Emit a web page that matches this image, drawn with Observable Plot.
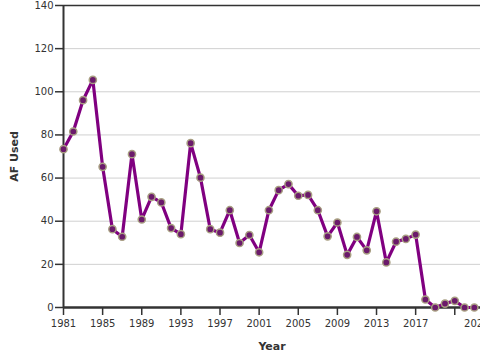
<!DOCTYPE html>
<html>
<head>
<meta charset="utf-8">
<script src="https://cdn.jsdelivr.net/npm/d3@7"></script>
<script src="https://cdn.jsdelivr.net/npm/@observablehq/plot@0.6"></script>
<style>
  html, body { margin: 0; padding: 0; background: #fff; }
  #chart { width: 480px; height: 360px; overflow: hidden; }
</style>
</head>
<body>
<div id="chart"></div>
<script>
const years = [1981,1982,1983,1984,1985,1986,1987,1988,1989,1990,
               1991,1992,1993,1994,1995,1996,1997,1998,1999,2000,
               2001,2002,2003,2004,2005,2006,2007,2008,2009,2010,
               2011,2012,2013,2014,2015,2016,2017,2018,2019,2020,
               2021,2022,2023];
const afUsed = [73.4,81.6,96.1,105.5,65.2,36.3,32.8,71.1,40.8,51.3,
                48.7,36.8,34.0,76.2,60.2,36.3,34.7,45.1,29.9,33.6,
                25.6,45.1,54.4,57.2,51.8,52.2,45.1,33.0,39.4,24.4,
                32.7,26.5,44.6,20.9,30.5,31.8,33.8,3.7,0,1.8,
                3.1,0,0];
const xTicks = [1981,1985,1989,1993,1997,2001,2005,2009,2013,2017,2021];
const yTicks = [0,20,40,60,80,100,120,140];
const gridTicks = [20,40,60,80,100,120];
const xLabel = "Year";
const yLabel = "AF Used";

const data = years.map((y, i) => ({year: y, value: afUsed[i]}));
const lastTick = xTicks[xTicks.length - 1];

const chart = Plot.plot({
  width: 480,
  height: 360,
  marginLeft: 63,
  marginRight: 0,
  marginTop: 5,
  marginBottom: 53,
  style: {fontFamily: "'DejaVu Sans', Verdana, sans-serif", fontSize: "10px", color: "#333", background: "#fff"},
  x: {domain: [1981, 2023.63]},
  y: {domain: [0, 140]},
  marks: [
    Plot.gridY(gridTicks, {stroke: "#d0d0d0", strokeOpacity: 1, strokeWidth: 1}),
    Plot.ruleY([140], {stroke: "#333", strokeWidth: 1.5}),
    Plot.axisY(yTicks, {tickSize: 8, tickPadding: 2, tickFormat: d => String(d), label: null, stroke: "#333", strokeWidth: 1.5, fill: "#333", fontSize: 10}),
    Plot.axisX(xTicks, {tickSize: 8, tickPadding: 4, tickFormat: d => d === lastTick ? "" : String(d), label: null, stroke: "#333", strokeWidth: 1.5, fill: "#333", fontSize: 10}),
    Plot.axisX([lastTick], {tickSize: 0, tickPadding: 12, dx: 22, tickFormat: d => String(d), label: null, fill: "#333", fontSize: 10}),
    Plot.ruleX([1981], {stroke: "#333", strokeWidth: 2}),
    Plot.ruleY([0], {stroke: "#333", strokeWidth: 2.5}),
    Plot.line(data, {x: "year", y: "value", stroke: "#800080", strokeWidth: 3.2, curve: "linear"}),
    Plot.dot(data, {x: "year", y: "value", r: 3.6, fill: "#6b1a6b", stroke: "#a89f82", strokeWidth: 1.5}),
    Plot.text([yLabel], {text: d => d, frameAnchor: "left", textAnchor: "middle", dx: -49, rotate: -90, fontWeight: "bold", fontSize: 11, fill: "#333"}),
    Plot.text([xLabel], {text: d => d, frameAnchor: "bottom", dy: 42, fontWeight: "bold", fontSize: 11, fill: "#333"})
  ]
});
document.getElementById("chart").appendChild(chart);
</script>
</body>
</html>
